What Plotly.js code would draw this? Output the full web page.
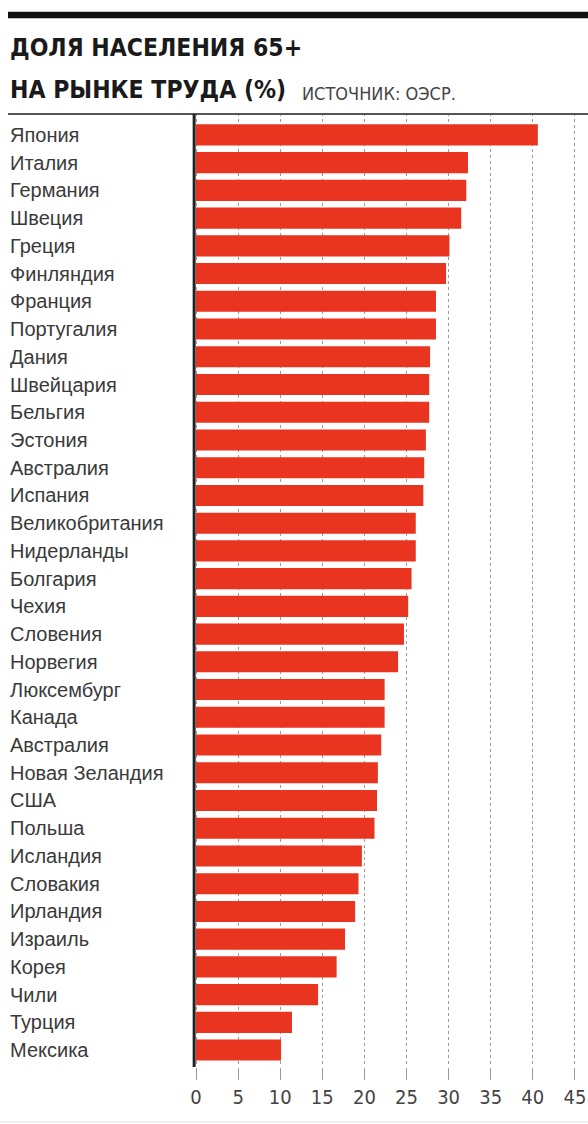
<!DOCTYPE html>
<html>
<head>
<meta charset="utf-8">
<script src="https://cdn.plot.ly/plotly-3.0.1.min.js"></script>
<style>
  html, body { margin: 0; padding: 0; background: #fff; }
  #chart { width: 588px; height: 1124px; }
</style>
</head>
<body>
<div id="chart"></div>
<script>
const categories = [
  "Япония", "Италия", "Германия", "Швеция", "Греция", "Финляндия", "Франция",
  "Португалия", "Дания", "Швейцария", "Бельгия", "Эстония", "Австралия", "Испания",
  "Великобритания", "Нидерланды", "Болгария", "Чехия", "Словения", "Норвегия",
  "Люксембург", "Канада", "Австралия ", "Новая Зеландия", "США", "Польша",
  "Исландия", "Словакия", "Ирландия", "Израиль", "Корея", "Чили", "Турция", "Мексика"
];
const values = [
  40.6, 32.3, 32.1, 31.5, 30.1, 29.7, 28.5,
  28.5, 27.8, 27.7, 27.7, 27.3, 27.1, 27.0,
  26.1, 26.1, 25.6, 25.2, 24.7, 24.0,
  22.4, 22.4, 22.0, 21.6, 21.5, 21.2,
  19.7, 19.3, 18.9, 17.7, 16.7, 14.5, 11.4, 10.1
];
const tickValues = [0, 5, 10, 15, 20, 25, 30, 35, 40, 45];
const tickLabels = ["0", "5", "10", "15", "20", "25", "30", "35", "40", "45"];
const titleLine1 = "ДОЛЯ НАСЕЛЕНИЯ 65+";
const titleLine2 = "НА РЫНКЕ ТРУДА (%)";
const sourceText = "ИСТОЧНИК: ОЭСР.";

const W = 588, H = 1124;
const mL = 192, mR = 0, mT = 113, mB = 57;
const plotW = W - mL - mR, plotH = H - mT - mB;
const px2paperX = p => (p - mL) / plotW;
const px2paperY = p => (H - mB - p) / plotH;

const FONT = "Liberation Sans, Arial, sans-serif";
const CFONT = "DejaVu Sans Condensed, Liberation Sans Narrow, Arial Narrow, sans-serif";

const trace = {
  type: "bar",
  orientation: "h",
  x: values,
  y: categories,
  width: 0.76,
  marker: { color: "#e9351f" },
  hoverinfo: "x+y"
};

const labelAnnotations = categories.map(c => ({
  x: px2paperX(8), xref: "paper", xanchor: "left",
  y: c, yref: "y", yanchor: "middle",
  text: c, showarrow: false,
  font: { family: FONT, size: 20, color: "#3a3a3a" }
}));

const titleAnnotations = [
  { x: px2paperX(8), xref: "paper", xanchor: "left", y: px2paperY(47), yref: "paper", yanchor: "middle",
    text: "<b>" + titleLine1 + "</b>", showarrow: false,
    font: { family: CFONT, size: 24.5, color: "#1a1a1a" } },
  { x: px2paperX(8), xref: "paper", xanchor: "left", y: px2paperY(89), yref: "paper", yanchor: "middle",
    text: "<b>" + titleLine2 + "</b>", showarrow: false,
    font: { family: CFONT, size: 24.5, color: "#1a1a1a" } },
  { x: px2paperX(300), xref: "paper", xanchor: "left", y: px2paperY(93), yref: "paper", yanchor: "middle",
    text: sourceText, showarrow: false,
    font: { family: CFONT, size: 18, color: "#444" } }
];

const layout = {
  width: W, height: H,
  margin: { l: mL, r: mR, t: mT, b: mB, pad: 0 },
  paper_bgcolor: "#fff", plot_bgcolor: "#fff",
  showlegend: false,
  bargap: 0.24,
  xaxis: {
    range: [-4 / 8.42, (W - mL - 4) / 8.42],
    tickvals: tickValues, ticktext: tickLabels,
    showgrid: true, gridcolor: "#9a9a9a", griddash: "dot", gridwidth: 1,
    zeroline: false, showline: false,
    ticks: "outside", ticklen: 12, tickcolor: "#999", tickwidth: 1,
    tickfont: { family: CFONT, size: 20, color: "#444" },
    fixedrange: true
  },
  yaxis: {
    type: "category",
    categoryorder: "array", categoryarray: categories,
    range: [33.61, -0.79],
    showticklabels: false, showgrid: false, zeroline: false, showline: false, ticks: "",
    fixedrange: true
  },
  shapes: [
    { type: "rect", xref: "paper", yref: "paper",
      x0: px2paperX(8), x1: 1, y0: px2paperY(18.3), y1: px2paperY(11.7),
      fillcolor: "#111", line: { width: 0 } },
    { type: "line", xref: "paper", yref: "paper",
      x0: px2paperX(8), x1: 1, y0: px2paperY(114), y1: px2paperY(114),
      line: { color: "#555", width: 2 } },
    { type: "line", xref: "x", yref: "paper",
      x0: -0.22, x1: -0.22, y0: 0, y1: px2paperY(114),
      line: { color: "#222", width: 3 } },
    { type: "line", xref: "paper", yref: "paper",
      x0: px2paperX(0), x1: 1, y0: px2paperY(1122), y1: px2paperY(1122),
      line: { color: "#e2e2e2", width: 1 } }
  ],
  annotations: labelAnnotations.concat(titleAnnotations)
};

Plotly.newPlot("chart", [trace], layout, { displayModeBar: false, staticPlot: true });
</script>
</body>
</html>
